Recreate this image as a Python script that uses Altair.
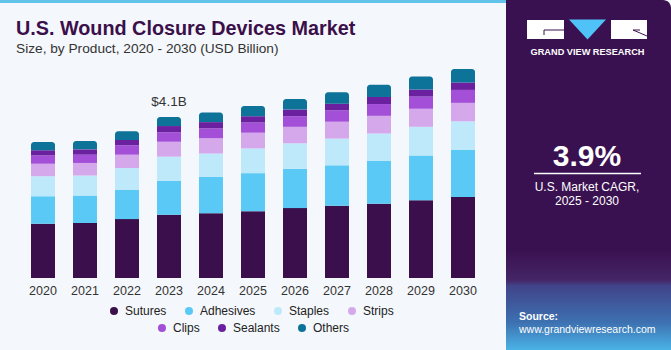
import altair as alt
import pandas as pd

years = [2020, 2021, 2022, 2023, 2024, 2025, 2026, 2027, 2028, 2029, 2030]
sutures = [1.38, 1.40, 1.50, 1.61, 1.65, 1.70, 1.78, 1.84, 1.89, 1.98, 2.06]
adhesives = [0.70, 0.70, 0.75, 0.86, 0.93, 0.97, 1.00, 1.03, 1.09, 1.14, 1.20]
staples = [0.51, 0.51, 0.55, 0.62, 0.59, 0.63, 0.65, 0.68, 0.70, 0.73, 0.73]
strips = [0.32, 0.32, 0.34, 0.38, 0.39, 0.40, 0.42, 0.43, 0.45, 0.46, 0.47]
clips = [0.21, 0.21, 0.24, 0.24, 0.25, 0.26, 0.27, 0.29, 0.30, 0.31, 0.33]
sealants = [0.135, 0.136, 0.136, 0.16, 0.16, 0.16, 0.17, 0.17, 0.18, 0.18, 0.19]
others = [0.21, 0.21, 0.22, 0.23, 0.246, 0.26, 0.27, 0.29, 0.31, 0.33, 0.34]

products = ["Sutures", "Adhesives", "Staples", "Strips", "Clips", "Sealants", "Others"]
colors = ["#3a0f4b", "#5bc9f5", "#bee9fb", "#d5a8ec", "#a34fd8", "#6b20a0", "#0d7398"]
series = [sutures, adhesives, staples, strips, clips, sealants, others]

rows = []
for i, y in enumerate(years):
    base = 0.0
    for p, s in zip(products, series):
        rows.append({"year": str(y), "product": p, "value": s[i], "y0": base, "y1": base + s[i]})
        base += s[i]
df = pd.DataFrame(rows)
totals = df.groupby("year", as_index=False)["value"].sum()
totals["label"] = totals["value"].map(lambda v: f"${v:.1f}B")
ann = totals[totals["year"] == "2023"]

FONT = "Liberation Sans"

x_enc = alt.X(
    "year:O",
    title=None,
    scale=alt.Scale(range=[10, 496], paddingInner=0.4286, paddingOuter=0.5),
    axis=alt.Axis(domain=False, ticks=False, grid=False, labelAngle=0, labelPadding=6,
                  labelFont=FONT, labelFontSize=12.5, labelColor="#333333"),
)
y_scale = alt.Scale(domain=[0, 7.08], nice=False, zero=True)

def legend(x, y):
    return alt.Legend(orient="none", legendX=x, legendY=y, direction="horizontal", title=None,
                      symbolType="circle", symbolSize=64, symbolStrokeWidth=0,
                      labelFont=FONT, labelFontSize=12, labelColor="#222222",
                      columnPadding=16, labelOffset=5, padding=0)

g1 = products[:4]
g2 = products[4:]
bars1 = alt.Chart(df[df["product"].isin(g1)]).mark_bar().encode(
    x=x_enc,
    y=alt.Y("y0:Q", scale=y_scale, axis=None),
    y2="y1:Q",
    color=alt.Color("product:N", scale=alt.Scale(domain=g1, range=colors[:4]), legend=legend(108, 305)),
)
color2 = alt.Color("product:N", scale=alt.Scale(domain=g2, range=colors[4:]), legend=legend(156, 322))
bars2 = alt.Chart(df[df["product"].isin(["Clips", "Sealants"])]).mark_bar().encode(
    x=x_enc, y=alt.Y("y0:Q", scale=y_scale, axis=None), y2="y1:Q", color=color2,
)
bars3 = alt.Chart(df[df["product"] == "Others"]).mark_bar(
    cornerRadiusTopLeft=3, cornerRadiusTopRight=3
).encode(
    x=x_enc, y=alt.Y("y0:Q", scale=y_scale, axis=None), y2="y1:Q", color=color2,
)
bars_g2 = alt.layer(bars2, bars3)

label = alt.Chart(ann).mark_text(font=FONT, fontSize=13.5, color="#333333", baseline="bottom", dy=-8).encode(
    x=x_enc, y=alt.Y("value:Q", scale=y_scale, axis=None), text="label:N"
)

one = pd.DataFrame({"d": [0]})

def rect(x1, x2, y1, y2, color, **kw):
    return alt.Chart(one).mark_rect(color=color, **kw).encode(
        x=alt.value(x1), x2=alt.value(x2), y=alt.value(y1), y2=alt.value(y2))

def text(t, x, y, size, color, weight="normal", align="left", **kw):
    return alt.Chart(one).mark_text(font=FONT, fontSize=size, color=color, fontWeight=weight,
                                    align=align, baseline="alphabetic", **kw).encode(
        x=alt.value(x), y=alt.value(y), text=alt.value(t))

def rule(x1, x2, y1, y2, color, w):
    return alt.Chart(one).mark_rule(color=color, strokeWidth=w).encode(
        x=alt.value(x1), x2=alt.value(x2), y=alt.value(y1), y2=alt.value(y2))

stripe = rect(0, 506, 0, 3, "#62c3ea")
panel = rect(506, 671, 0, 350, "#3a1150", cornerRadiusTopRight=8)
grad = alt.LinearGradient(
    gradient="linear", x1=0, x2=0, y1=0, y2=1,
    stops=[
        alt.GradientStop(color="#3a1150", offset=0),
        alt.GradientStop(color="#452566", offset=0.3),
        alt.GradientStop(color="#41448a", offset=0.36),
        alt.GradientStop(color="#3d70b0", offset=0.72),
        alt.GradientStop(color="#4ab3e6", offset=1),
    ],
)
panel_bottom = alt.Chart(one).mark_rect(color=grad).encode(
    x=alt.value(506), x2=alt.value(671), y=alt.value(250), y2=alt.value(350))

logo_l = rect(527, 564, 20, 39, "#ffffff")
logo_r = rect(611, 647, 20, 39, "#ffffff")
logo_t = alt.Chart(one).mark_point(
    shape="M -1 -0.54 L 1 -0.54 L 0 0.54 Z", filled=True, color="#4fc3f7", size=1369, opacity=1, strokeWidth=0
).encode(x=alt.value(587.5), y=alt.value(29.5))
g_h = rule(544, 564, 30, 30, "#3a1150", 1)
g_v = rule(544, 544, 30, 35, "#3a1150", 1)
r_d = rule(633, 647, 30, 36, "#3a1150", 1)
r_h = rule(633, 640, 30, 30, "#3a1150", 1)

title = text("U.S. Wound Closure Devices Market", 16, 35, 19.8, "#3b0f4a", weight="bold")
subtitle = text("Size, by Product, 2020 - 2030 (USD Billion)", 16, 53, 13.7, "#333333")
gvr = text("GRAND VIEW RESEARCH", 587.5, 55, 9.2, "#ffffff", weight="bold", align="center")
cagr = text("3.9%", 587, 166, 30, "#ffffff", weight="bold", align="center")
cagr_line = rule(534, 641, 173.5, 173.5, "#ffffff", 1.5)
cagr1 = text("U.S. Market CAGR,", 587, 191, 12, "#ffffff", align="center")
cagr2 = text("2025 - 2030", 587, 205, 12, "#ffffff", align="center")
src1 = text("Source:", 519, 320, 10.5, "#ffffff", weight="bold")
src2 = text("www.grandviewresearch.com", 519, 333, 10.5, "#ffffff")

chart = alt.layer(
    stripe, panel, panel_bottom,
    bars1, bars_g2, label,
    title, subtitle,
    logo_l, logo_r, logo_t, g_h, g_v, r_d, r_h, gvr,
    cagr, cagr_line, cagr1, cagr2, src1, src2,
).resolve_scale(color="independent").properties(
    width=671, height=278,
    padding={"left": 0, "top": 0, "right": 0, "bottom": 72},
    autosize="none",
    background="#f4f7fb",
).configure_view(stroke=None)

chart.save("out.html", embed_options={"renderer": "svg", "actions": False})
